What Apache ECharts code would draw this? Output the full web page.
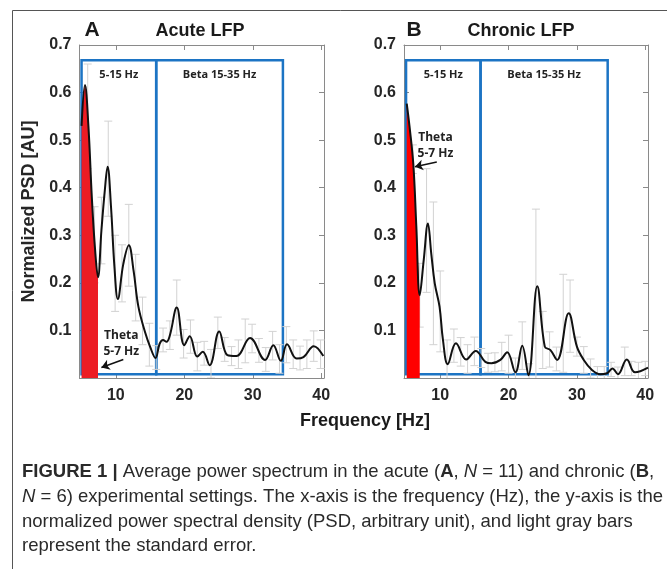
<!DOCTYPE html>
<html>
<head>
<meta charset="utf-8">
<script src="https://cdn.jsdelivr.net/npm/echarts@6/dist/echarts.min.js"></script>
<style>
html,body{margin:0;padding:0;background:#fff}
#chart{width:667px;height:569px}
</style>
</head>
<body>
<div id="chart"></div>
<script>
// acute LFP (panel A)
let freqA = [5.0, 5.5, 6.0, 6.5, 7.0, 7.4, 7.9, 8.4, 8.8, 9.3, 9.8, 10.3, 11.1, 11.9, 12.6, 13.3, 14.3, 15.0, 15.8, 16.4, 16.9, 17.4, 17.9, 18.9, 20.0, 20.8, 21.9, 22.7, 23.7, 25.1, 26.3, 27.6, 29.6, 31.8, 33.0, 34.1, 35.0, 36.4, 37.4, 38.9, 40.3];
let psdA = [0.53, 0.616, 0.53, 0.38, 0.265, 0.212, 0.31, 0.395, 0.444, 0.36, 0.234, 0.166, 0.24, 0.279, 0.225, 0.15, 0.095, 0.066, 0.042, 0.072, 0.080, 0.076, 0.090, 0.148, 0.069, 0.088, 0.045, 0.055, 0.027, 0.098, 0.048, 0.046, 0.084, 0.038, 0.069, 0.036, 0.071, 0.041, 0.044, 0.067, 0.046];
let errFreqA = [5.9, 6.9, 7.9, 8.9, 9.9, 10.9, 11.9, 12.9, 13.9, 14.9, 15.9, 16.9, 17.9, 18.9, 19.9, 20.9, 21.9, 22.9, 23.9, 24.9, 25.9, 26.9, 27.9, 28.9, 29.9, 30.9, 31.9, 32.9, 33.9, 34.9, 35.9, 36.9, 37.9, 38.9, 39.9];
let errMeanA = [0.55, 0.28, 0.31, 0.44, 0.22, 0.22, 0.279, 0.19, 0.12, 0.07, 0.043, 0.08, 0.09, 0.148, 0.072, 0.087, 0.045, 0.052, 0.03, 0.095, 0.06, 0.046, 0.05, 0.078, 0.083, 0.058, 0.039, 0.068, 0.04, 0.07, 0.05, 0.042, 0.05, 0.067, 0.05];
let errSizeA = [0.11, 0.08, 0.07, 0.10, 0.08, 0.06, 0.086, 0.07, 0.05, 0.045, 0.025, 0.025, 0.03, 0.058, 0.03, 0.035, 0.03, 0.025, 0.03, 0.033, 0.025, 0.02, 0.03, 0.046, 0.03, 0.025, 0.025, 0.03, 0.03, 0.038, 0.03, 0.025, 0.03, 0.032, 0.03];

// chronic LFP (panel B)
let freqB = [5.1, 5.5, 6.06, 6.5, 7.0, 7.6, 8.2, 8.7, 9.2, 9.9, 10.4, 11.1, 12.3, 13.8, 15.2, 16.6, 17.5, 18.8, 19.8, 21.0, 22.0, 22.9, 24.2, 25.3, 26.1, 27.1, 28.8, 30.0, 31.0, 32.2, 33.4, 34.4, 35.2, 36.0, 37.3, 38.5, 40.4];
let psdB = [0.577, 0.53, 0.45, 0.32, 0.174, 0.25, 0.325, 0.26, 0.199, 0.15, 0.08, 0.029, 0.073, 0.039, 0.057, 0.034, 0.031, 0.038, 0.054, 0.012, 0.068, 0.006, 0.193, 0.066, 0.059, 0.038, 0.136, 0.066, 0.038, 0.017, 0.008, 0.010, 0.020, 0.008, 0.039, 0.012, 0.022];
let errFreqB = [6, 7, 8, 9, 10, 11, 12, 13, 14, 15, 16, 17, 18, 19, 20, 21, 22, 23, 24, 25, 26, 27, 28, 29, 30, 31, 32, 33, 34, 35, 36, 37, 38, 39, 40];
let errMeanB = [0.46, 0.174, 0.31, 0.22, 0.14, 0.03, 0.068, 0.055, 0.04, 0.056, 0.042, 0.032, 0.033, 0.045, 0.05, 0.012, 0.068, 0.01, 0.175, 0.08, 0.06, 0.04, 0.115, 0.13, 0.066, 0.038, 0.02, 0.009, 0.009, 0.018, 0.008, 0.035, 0.02, 0.013, 0.02];
let errSizeB = [0.03, 0.067, 0.13, 0.15, 0.085, 0.05, 0.035, 0.03, 0.03, 0.03, 0.02, 0.02, 0.02, 0.03, 0.04, 0.03, 0.05, 0.02, 0.18, 0.06, 0.037, 0.025, 0.103, 0.076, 0.02, 0.028, 0.02, 0.015, 0.015, 0.015, 0.015, 0.03, 0.015, 0.02, 0.015];

let xTicks = [10, 20, 30, 40];
let bandsA = [5, 15.9, 34.4];
let bandsB = [5, 15.9, 34.5];
let bandNames = ['5-15 Hz', 'Beta 15-35 Hz'];
let thetaEndA = 7.4;
let thetaEndB = 7.0;

const FONT = "'Liberation Sans', Arial, sans-serif";
const AXIS_COLOR = '#8a8a8a';

let chart = echarts.init(document.getElementById('chart'));

function xAxes(grid) {
    let base = {
        gridIndex: grid, type: 'value', min: 4.7, max: 40.4,
        axisLine: {show: true, onZero: false, lineStyle: {color: AXIS_COLOR, width: 1}},
        axisTick: {show: true, inside: true, length: 5, customValues: xTicks, lineStyle: {color: AXIS_COLOR}},
        splitLine: {show: false}
    };
    return [
        Object.assign({}, base, {position: 'bottom', axisLabel: {customValues: xTicks, color: '#262626', fontWeight: 'bold', fontSize: 16, fontFamily: FONT, margin: 10}}),
        Object.assign({}, base, {position: 'top', axisLabel: {show: false}})
    ];
}
function yAxes(grid, name) {
    let base = {
        gridIndex: grid, type: 'value', min: 0, max: 0.7, interval: 0.1,
        axisLine: {show: true, lineStyle: {color: AXIS_COLOR, width: 1}},
        axisTick: {show: true, inside: true, length: 5, lineStyle: {color: AXIS_COLOR}},
        splitLine: {show: false}
    };
    let left = Object.assign({}, base, {
        position: 'left',
        axisLabel: {color: '#262626', fontWeight: 'bold', fontSize: 16, fontFamily: FONT, margin: 8,
            formatter: v => v === 0 ? '' : v.toFixed(1)}
    });
    if (name) {
        left.name = name;
        left.nameLocation = 'middle';
        left.nameGap = 41;
        left.nameTextStyle = {color: '#262626', fontWeight: 'bold', fontSize: 18, fontFamily: FONT};
    }
    return [left, Object.assign({}, base, {position: 'right', axisLabel: {show: false}})];
}

function panelSeries(ax, freq, psd, thetaEnd, errFreq, errMean, errSize, bands, red, thetaPos, arrow) {
    let curve = freq.map((f, i) => [f, psd[i]]);
    let fill = curve.filter(p => p[0] <= thetaEnd + 1e-6);
    let errData = errFreq.map((f, i) => [f, errMean[i] - errSize[i], errMean[i] + errSize[i]]);
    return [
        {
            type: 'custom', xAxisIndex: ax, yAxisIndex: ax, clip: true, z: 1, silent: true,
            data: errData,
            renderItem: function (params, api) {
                let lo = api.coord([api.value(0), api.value(1)]);
                let hi = api.coord([api.value(0), api.value(2)]);
                let w = 4;
                let st = {stroke: '#d2d2d2', lineWidth: 1};
                return {
                    type: 'group',
                    children: [
                        {type: 'line', shape: {x1: hi[0], y1: hi[1], x2: lo[0], y2: lo[1]}, style: st},
                        {type: 'line', shape: {x1: hi[0] - w, y1: hi[1], x2: hi[0] + w, y2: hi[1]}, style: st},
                        {type: 'line', shape: {x1: lo[0] - w, y1: lo[1], x2: lo[0] + w, y2: lo[1]}, style: st}
                    ]
                };
            }
        },
        {
            type: 'line', xAxisIndex: ax, yAxisIndex: ax, z: 2, silent: true,
            data: fill, smooth: 0.4, symbol: 'none',
            lineStyle: {width: 0}, areaStyle: {color: red, opacity: 1}
        },
        {
            type: 'line', xAxisIndex: ax, yAxisIndex: ax, z: 3, silent: true,
            data: curve, smooth: 0.4, symbol: 'none',
            lineStyle: {color: '#111', width: 2}
        },
        {
            type: 'line', xAxisIndex: ax, yAxisIndex: ax, z: 4, silent: true, data: [],
            markArea: {
                silent: true,
                itemStyle: {color: 'rgba(0,0,0,0)', borderColor: '#1c74c4', borderWidth: 2.5},
                label: {show: true, position: 'insideTop', distance: 10, color: '#222', fontFamily: "'Open Sans', sans-serif", fontWeight: 'bold', fontSize: 11},
                data: [
                    [{name: bandNames[0], xAxis: bands[0], yAxis: 0.008}, {xAxis: bands[1], yAxis: 0.668}],
                    [{name: bandNames[1], xAxis: bands[1], yAxis: 0.008}, {xAxis: bands[2], yAxis: 0.668}]
                ]
            },
            markPoint: {
                silent: true, symbol: 'circle', symbolSize: 1, itemStyle: {color: 'rgba(0,0,0,0)'},
                label: {show: true, position: 'inside', formatter: 'Theta\n5-7 Hz', color: '#222', fontFamily: "'Open Sans', sans-serif", fontWeight: 'bold', fontSize: 12, lineHeight: 16, align: 'center'},
                data: [{coord: thetaPos}]
            },
            markLine: {
                silent: true, symbol: ['none', 'arrow'], symbolSize: 8,
                lineStyle: {color: '#111', width: 1.5, type: 'solid'},
                label: {show: false},
                data: [[{coord: arrow[0]}, {coord: arrow[1]}]]
            }
        }
    ];
}

function capLine(y, text) {
    let sz = 18.5;
    return {
        type: 'text', x: 22, y: y, silent: true,
        style: {
            text: text, fontSize: sz, fontFamily: FONT, fill: '#2a2a2a', verticalAlign: 'middle',
            rich: {
                b: {fontSize: sz, fontFamily: FONT, fill: '#2a2a2a', fontWeight: 'bold'},
                i: {fontSize: sz, fontFamily: FONT, fill: '#2a2a2a', fontStyle: 'italic'}
            }
        }
    };
}
function label(x, y, text, size) {
    return {
        type: 'text', x: x, y: y, silent: true,
        style: {text: text, fontSize: size, fontWeight: 'bold', fontFamily: FONT, fill: '#1a1a1a', align: 'center', verticalAlign: 'middle'}
    };
}

let option = {
    animation: false,
    grid: [
        {left: 79.5, right: 343, top: 45, bottom: 191},
        {left: 404, right: 19, top: 45, bottom: 191}
    ],
    xAxis: xAxes(0).concat(xAxes(1)),
    yAxis: yAxes(0, 'Normalized PSD [AU]').concat(yAxes(1)),
    series: [].concat(
        panelSeries(0, freqA, psdA, thetaEndA, errFreqA, errMeanA, errSizeA, bandsA, '#ec1c24', [10.8, 0.072], [[11.1, 0.039], [7.9, 0.022]]),
        panelSeries(2, freqB, psdB, thetaEndB, errFreqB, errMeanB, errSizeB, bandsB, '#ff0000', [9.3, 0.488], [[9.5, 0.454], [6.3, 0.444]])
    ),
    graphic: [
        {type: 'rect', silent: true, shape: {x: 12.5, y: 10.5, width: 700, height: 600}, style: {fill: 'none', stroke: '#555', lineWidth: 1}},
        label(92, 30, 'A', 21),
        label(200, 31, 'Acute LFP', 18),
        label(414, 30, 'B', 21),
        label(521, 31, 'Chronic LFP', 18),
        label(365, 421, 'Frequency [Hz]', 18),
        capLine(472, '{b|FIGURE 1 |} Average power spectrum in the acute ({b|A}, {i|N} = 11) and chronic ({b|B},'),
        capLine(497, '{i|N} = 6) experimental settings. The x-axis is the frequency (Hz), the y-axis is the'),
        capLine(522, 'normalized power spectral density (PSD, arbitrary unit), and light gray bars'),
        capLine(546, 'represent the standard error.')
    ]
};
// axis order: 0 A-bottom/left, 1 A-top/right, 2 B-bottom/left, 3 B-top/right
chart.setOption(option);
</script>
</body>
</html>
